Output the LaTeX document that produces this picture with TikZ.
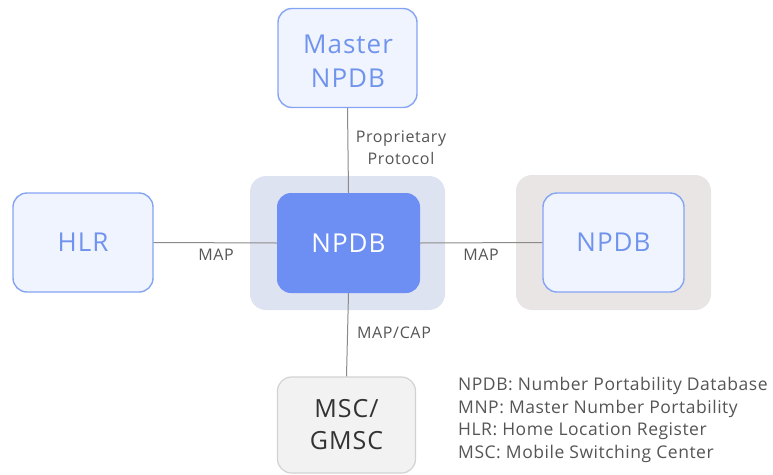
\documentclass[tikz,border=0pt]{standalone}
\usepackage{fontspec}
\setmainfont{Open Sans}
\newfontfamily\widesans[LetterSpace=4]{Open Sans}
\newfontfamily\legendsans[LetterSpace=3]{Open Sans}
\definecolor{bluefill}{HTML}{F0F4FE}
\definecolor{blueline}{HTML}{86A4F4}
\definecolor{bluetext}{HTML}{7094EE}
\definecolor{corefill}{HTML}{6D8FF4}
\definecolor{corebg}{HTML}{DEE3F2}
\definecolor{peerbg}{HTML}{E9E5E5}
\definecolor{mscfill}{HTML}{F2F2F2}
\definecolor{mscline}{HTML}{D2D2D2}
\definecolor{linkgray}{HTML}{8A8A8A}
\definecolor{labelgray}{HTML}{555555}
\tikzset{
  netbox/.style={draw=blueline, line width=1.4pt, fill=bluefill, rounded corners=14pt,
    text=bluetext, font=\widesans\fontsize{26}{34}\selectfont, align=center, inner sep=0pt},
  corebox/.style={fill=corefill, rounded corners=14pt, text=white,
    font=\widesans\fontsize{26}{34}\selectfont, inner sep=0pt},
  groupbg/.style={rounded corners=16pt, inner sep=0pt},
  mscbox/.style={draw=mscline, line width=1.2pt, fill=mscfill, rounded corners=14pt,
    text=black!80, font=\widesans\fontsize{25}{32}\selectfont, align=center, inner sep=0pt},
  link/.style={draw=linkgray, line width=1pt},
  linklabel/.style={text=labelgray, font=\widesans\fontsize{16}{22}\selectfont, align=center, inner sep=0pt},
  legend/.style={text=labelgray, font=\legendsans\fontsize{17.5}{22.5}\selectfont, align=left, inner sep=0pt, anchor=north west}
}
\begin{document}
\begin{tikzpicture}[x=1pt, y=-1pt]
  \useasboundingbox (0,0) rectangle (773,474);
  % background groups
  \node[groupbg, fill=corebg, minimum width=195pt, minimum height=134pt] (coregrp) at (347.5,243) {};
  \node[groupbg, fill=peerbg, minimum width=195pt, minimum height=135pt] (peergrp) at (613.5,242.5) {};
  % network elements
  \node[netbox, minimum width=139pt, minimum height=99pt] (master) at (347.5,58) {};
  \node[text=bluetext, font=\widesans\fontsize{26}{34}\selectfont, align=center, inner sep=0pt] (mastertext) at (348,61) {Master\\NPDB};
  \node[corebox, minimum width=143pt, minimum height=100pt] (core) at (348.5,243) {NPDB};
  \node[netbox, minimum width=140pt, minimum height=99pt] (hlr) at (83,242.5) {HLR};
  \node[netbox, minimum width=141pt, minimum height=99pt] (peer) at (613.5,242.5) {NPDB};
  \node[mscbox, minimum width=138pt, minimum height=96pt] (msc) at (346.5,425) {MSC/\\GMSC};
  % links
  \draw[link] (master.south) -- (core.north);
  \draw[link] (hlr.east) -- (core.west);
  \draw[link] (core.east) -- (peer.west);
  \draw[link] (core.south) -- (msc.north);
  % link labels
  \node[linklabel] (lblprop) at (401,148) {Proprietary\\Protocol};
  \node[linklabel] (lblhlr) at (216,255) {MAP};
  \node[linklabel] (lblpeer) at (481,255) {MAP};
  \node[linklabel] (lblmsc) at (394,333) {MAP/CAP};
  % abbreviations
  \node[legend] (abbr) at (458,377) {NPDB: Number Portability Database\\MNP: Master Number Portability\\HLR: Home Location Register\\MSC: Mobile Switching Center};
\end{tikzpicture}
\end{document}
